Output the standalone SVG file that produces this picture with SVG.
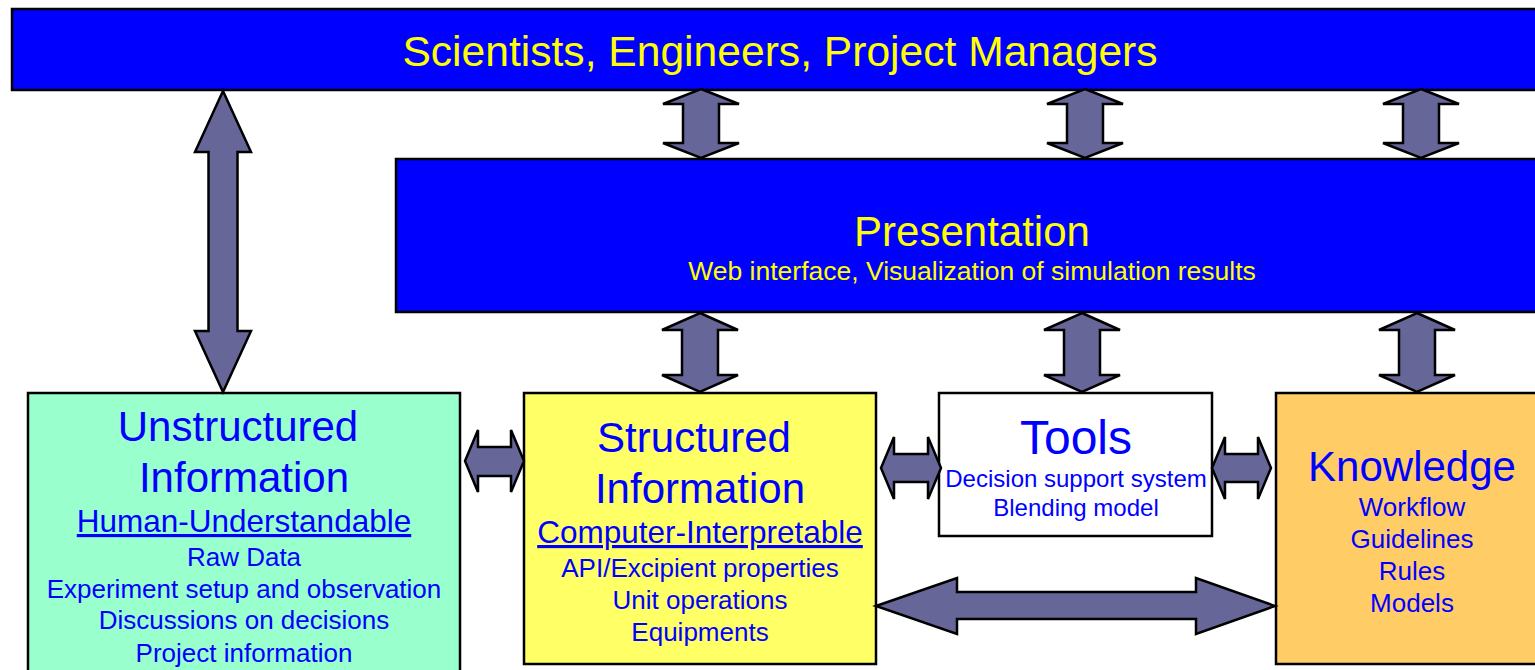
<svg xmlns="http://www.w3.org/2000/svg" width="1535" height="670" viewBox="0 0 1535 670">
<style>
.box{stroke:#000;stroke-width:2.5}
.arr{fill:#666699;stroke:#000;stroke-width:2.5;stroke-linejoin:miter}
text{font-family:"Liberation Sans",Arial,sans-serif;text-anchor:middle}
.yl{fill:#FFFF00}
.bl{fill:#0000FF}
.t42{font-size:42px}
.t31{font-size:31.5px;text-decoration:underline}
.t26{font-size:26px}
.t24{font-size:24px}
.t48{font-size:48px}
</style>
<rect width="1535" height="670" fill="#fff"/>
<g id="users">
<rect class="box" x="12" y="9" width="1540" height="81" fill="#0000FF"/>
<text class="yl" style="font-size:42.6px" x="780" y="66">Scientists, Engineers, Project Managers</text>
</g>
<g id="presentation">
<rect class="box" x="396" y="159" width="1160" height="153" fill="#0000FF"/>
<text class="yl t42" x="972" y="246">Presentation</text>
<text class="yl" style="font-size:26.5px" x="972" y="280">Web interface, Visualization of simulation results</text>
</g>
<g id="unstructured">
<rect class="box" x="28" y="393" width="432" height="300" fill="#99FFCC"/>
<text class="bl t42" x="238" y="441">Unstructured</text>
<text class="bl t42" x="244" y="492">Information</text>
<text class="bl t31" x="244" y="532">Human-Understandable</text>
<text class="bl t26" x="244" y="566">Raw Data</text>
<text class="bl t26" x="244" y="598">Experiment setup and observation</text>
<text class="bl t26" x="244" y="629">Discussions on decisions</text>
<text class="bl t26" x="244" y="662">Project information</text>
</g>
<g id="structured">
<rect class="box" x="524" y="393" width="352" height="271" fill="#FFFF66"/>
<text class="bl t42" x="694" y="452">Structured</text>
<text class="bl t42" x="700" y="503">Information</text>
<text class="bl t31" x="700" y="543">Computer-Interpretable</text>
<text class="bl t26" x="700" y="577">API/Excipient properties</text>
<text class="bl t26" x="700" y="609">Unit operations</text>
<text class="bl t26" x="700" y="641">Equipments</text>
</g>
<g id="tools">
<rect class="box" x="939" y="393" width="273" height="143" fill="#FFFFFF"/>
<text class="bl t48" x="1076" y="454">Tools</text>
<text class="bl t24" x="1076" y="487">Decision support system</text>
<text class="bl t24" x="1076" y="516">Blending model</text>
</g>
<g id="knowledge">
<rect class="box" x="1276" y="393" width="280" height="271" fill="#FFCC66"/>
<text class="bl t42" x="1412" y="481">Knowledge</text>
<text class="bl t26" x="1412" y="516">Workflow</text>
<text class="bl t26" x="1412" y="548">Guidelines</text>
<text class="bl t26" x="1412" y="580">Rules</text>
<text class="bl t26" x="1412" y="612">Models</text>
</g>
<g id="connectors">
<polygon class="arr" points="223,91 251,152 237.5,152 237.5,331 251,331 223,392 195,331 208.5,331 208.5,152 195,152"/>
<polygon class="arr" points="701,89 739,104 719,104 719,143 739,143 701,158 663,143 683,143 683,104 663,104"/>
<polygon class="arr" points="1085,89 1123,104 1103,104 1103,143 1123,143 1085,158 1047,143 1067,143 1067,104 1047,104"/>
<polygon class="arr" points="1421,89 1459,104 1439,104 1439,143 1459,143 1421,158 1383,143 1403,143 1403,104 1383,104"/>
<polygon class="arr" points="700,313 738,330 718,330 718,375 738,375 700,392 662,375 682,375 682,330 662,330"/>
<polygon class="arr" points="1082,313 1120,330 1100,330 1100,375 1120,375 1082,392 1044,375 1064,375 1064,330 1044,330"/>
<polygon class="arr" points="1417,313 1455,330 1435,330 1435,375 1455,375 1417,392 1379,375 1399,375 1399,330 1379,330"/>
<polygon class="arr" points="465,461 478,430 478,447 511,447 511,430 524,461 511,492 511,476 478,476 478,492"/>
<polygon class="arr" points="881,468 894,437 894,454 928,454 928,437 941,468 928,499 928,482 894,482 894,499"/>
<polygon class="arr" points="1212,468 1225,437 1225,454 1258,454 1258,437 1271,468 1258,499 1258,482 1225,482 1225,499"/>
<polygon class="arr" points="876,606 957,578 957,592 1196,592 1196,578 1275,606 1196,634 1196,619 957,619 957,634"/>
</g>
</svg>
